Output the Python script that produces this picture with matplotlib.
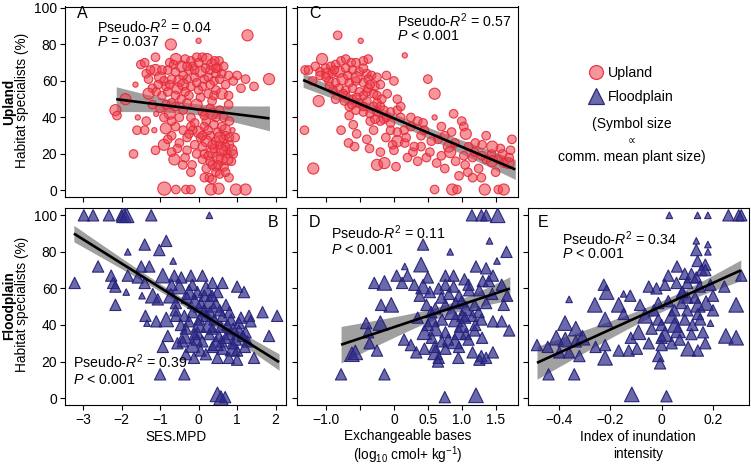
import numpy as np
import matplotlib
matplotlib.use("Agg")
import matplotlib.pyplot as plt
from matplotlib.lines import Line2D

plt.rcParams['font.family'] = ['Liberation Sans', 'DejaVu Sans']
plt.rcParams['mathtext.fontset'] = 'custom'
plt.rcParams['mathtext.rm'] = 'Liberation Sans'
plt.rcParams['mathtext.it'] = 'Liberation Sans:italic'
plt.rcParams['mathtext.bf'] = 'Liberation Sans:bold'

# ---------------- data ----------------
# Panel A: upland, SES.MPD vs habitat specialists (%), plant-size class
a_mpd = [1.27, 0.00, -0.72, -1.12, -0.59, -1.50, -1.40, -0.35, -0.20, -0.05, 0.10, 0.22, 0.53, -0.45, -0.15,
         0.35, 0.50, -1.12, -1.36, -0.80, -0.60, -0.25, 0.05, 0.30, 0.60, 0.78, 1.00, 1.22, 1.83, 1.44,
         -1.64, -1.30, -1.00, -0.90, -0.70, -0.50, -0.30, -0.10, 0.15, 0.40, -1.20, -0.85, -0.55, -0.20, 0.10,
         0.45, 0.70, -1.30, -1.10, -0.95, -0.60, -0.45, 0.05, 0.25, 0.60, 0.78, 0.78, -2.16, -2.12, -1.90,
         -1.58, -1.36, -1.00, -0.75, -0.60, -0.40, -0.20, -0.05, 0.10, 0.30, 0.45, -0.90, -0.50, 0.20, 0.55,
         -1.10, -1.60, -1.40, -0.85, -0.60, -0.40, -0.20, 0.00, 0.15, 0.30, 0.50, 0.69, 0.88, -0.70, -0.30,
         0.20, 0.45, 0.65, -0.90, -0.50, -0.10, 0.10, -1.69, -1.12, -0.63, -0.41, -0.17, -0.20, 0.15, 0.35,
         0.50, 0.65, 0.75, 0.85, 0.45, 0.66, 0.30, 0.60, 0.55, 0.80, 0.10, 0.45, 0.15, 0.28, 0.79,
         -0.89, -0.59, -0.33, -0.20, 0.32, 0.52, 0.97, 1.22, 0.40, 0.70, 0.25, 0.85, 0.60, 0.35, 0.55,
         -0.75, -0.40, 0.25, -0.95, 0.45, -0.70, 0.35, -0.25, -0.15, 0.05, -1.15, 0.70, 0.20, -0.30, -0.70,
         -0.65, -0.30, 0.00, 0.18, 0.42, 0.65, -1.05, -0.75, -0.40, -0.05, 0.30, 0.55, -0.80, -0.35, 0.00,
         0.40, -1.20, -0.85, -0.30, 0.15, 0.35, 0.65, -0.70, -0.10, 0.40, 0.80, 0.10, 0.55, 0.80, 0.35,
         0.60, 0.75, 0.90, 0.25, 0.50, 0.70, 0.35, -0.35, -0.05, -0.55, -0.80, -0.25, 0.95, 0.45, -0.10,
         -1.25, 0.90, 1.10]
a_pct = [85, 82, 80, 73, 72, 69, 70, 72, 71, 73, 73, 72, 71, 68, 68,
         69, 67, 66, 64, 66, 65, 66, 65, 66, 64, 63, 63, 61, 61, 57,
         58, 61, 62, 60, 61, 60, 61, 62, 61, 60, 56, 57, 56, 57, 57,
         55, 58, 53, 54, 52, 52, 50, 51, 53, 53, 52, 47, 44, 41, 50,
         40, 38, 45, 42, 46, 44, 40, 47, 43, 45, 40, 40, 40, 38, 44,
         42, 33, 33, 34, 35, 33, 35, 32, 35, 30, 32, 33, 33, 30, 29,
         27, 27, 28, 25, 26, 25, 24, 20, 22, 17, 14, 14, 10, 20, 21,
         18, 22, 20, 16, 13, 13, 16, 17, 25, 25, 17, 10, 7, 7, 7,
         1, 0.5, 0.5, 0.5, 0.5, 1, 0.5, 0.5, 23, 30, 33, 22, 35, 14, 9,
         70, 63, 62, 66, 64, 48, 49, 52, 33, 29, 33, 24, 12, 22, 21,
         69, 68, 70, 67, 71, 68, 58, 58, 58, 59, 58, 61, 54, 54, 55,
         52, 47, 47, 48, 41, 42, 40, 38, 37, 36, 38, 30, 29, 29, 25,
         22, 17, 20, 19, 14, 10, 6, 18, 20, 23, 28, 31, 29, 67, 66,
         66, 60, 56]
a_size = [3, 1, 3, 2, 3, 2, 2, 2, 2, 2, 2, 3, 2, 3, 2,
          3, 2, 3, 2, 2, 2, 2, 3, 2, 2, 2, 2, 2, 3, 2,
          1, 2, 3, 2, 2, 3, 2, 2, 2, 2, 2, 2, 3, 2, 2,
          2, 2, 3, 2, 2, 2, 2, 2, 2, 3, 2, 2, 3, 2, 3,
          1, 2, 2, 3, 2, 2, 2, 3, 2, 2, 2, 2, 2, 2, 2,
          1, 2, 2, 3, 2, 2, 2, 3, 2, 2, 2, 3, 1, 2, 2,
          3, 2, 2, 3, 2, 2, 2, 2, 2, 3, 2, 2, 2, 2, 3,
          3, 2, 2, 2, 2, 2, 2, 3, 2, 2, 2, 2, 2, 2, 2,
          4, 2, 2, 2, 3, 3, 3, 3, 2, 2, 2, 3, 2, 2, 2,
          2, 2, 2, 2, 2, 2, 2, 2, 2, 2, 1, 2, 2, 2, 2,
          2, 2, 2, 2, 2, 2, 2, 2, 3, 2, 2, 2, 2, 2, 2,
          2, 2, 2, 2, 2, 3, 2, 2, 2, 2, 2, 2, 3, 2, 2,
          3, 3, 2, 2, 2, 2, 2, 2, 2, 2, 2, 2, 2, 2, 2,
          2, 2, 2]

# Panel C: upland, exchangeable bases vs habitat specialists (%)
c_bases = [-0.83, -0.49, 0.16, -1.31, -1.26, -1.06, -1.16, -1.09, -1.01, -0.93, -0.86, -0.78, -0.71, -0.63, -0.56,
           -0.45, -0.38, -1.09, -0.98, -0.91, -0.81, -0.71, -0.61, -0.51, -0.40, -0.33, -0.96, -0.86, -0.76, -0.66,
           -0.56, -0.45, -0.38, -0.81, -0.71, -0.61, -0.51, -0.40, -0.30, -0.71, -0.61, -0.51, -0.40, -0.30, -0.66,
           -0.56, -0.45, -0.35, -0.25, -1.11, -0.20, -0.15, -0.73, -0.86, -0.45, -0.28, -0.38, -0.25, -0.20, 0.50,
           0.60, 0.88, 0.60, 1.00, 1.03, 1.06, 1.36, 1.74, 1.72, 1.57, 1.44, -1.32, -1.19, -0.67, -0.58,
           -0.36, -0.20, -0.25, -0.14, 0.03, 0.05, 0.15, 0.16, 0.28, 0.30, 0.48, 0.53, 0.63, 0.81, 0.83,
           0.91, 0.96, 1.09, 1.16, 1.29, 0.60, 0.86, 0.93, 1.34, 1.54, 1.62, 1.16, 1.36, 1.54, 1.62,
           1.69, 1.03, 1.19, 0.35, 0.43, -0.05, 0.05, -0.11, -0.20, -0.35, -0.28, -0.66, -0.78, -0.60, -0.10,
           0.05, 0.10, -0.11, 0.00, -0.25, -0.18, -0.05, 0.05, 0.18, 0.40, 0.70, 0.65, 1.20, 1.45, 0.25,
           -0.02, 0.35, 0.75, 1.25, 1.50,
           -1.00, -0.88, -0.68, -0.55, -0.45, -0.35, -0.90, -0.75, -0.55, -0.45, -0.25, -0.15, -0.05, 0.10, 0.25,
           0.45, 0.55, 0.75, 0.90, 1.10, 1.30, 1.45, 1.60, 1.70, 0.40, 0.20, 0.70, 1.05, -0.40, -0.55,
           -0.30, 0.00, -0.12, 0.85, 1.30, -0.95, -0.62, -1.20]
c_pct = [85, 82, 74, 66, 66, 72, 68, 65, 67, 68, 69, 71, 72, 70, 70,
         71, 72, 63, 64, 64, 65, 67, 66, 65, 64, 63, 60, 59, 61, 59,
         60, 59, 61, 56, 55, 56, 54, 54, 53, 52, 50, 48, 49, 46, 46,
         44, 43, 42, 43, 49, 46, 39, 49, 50, 52, 57, 56, 62, 58, 61,
         53, 42, 40, 38, 35, 31, 30, 28, 22, 23, 20, 33, 12, 26, 24,
         23, 21, 14, 15, 13, 27, 33, 26, 21, 24, 18, 21, 15, 24, 21,
         16, 8, 10, 7, 7, 0.5, 0.5, 0.5, 0.5, 0.5, 0.5, 18, 17, 17, 15,
         15, 19, 21, 38, 37, 43, 44, 40, 38, 38, 39, 41, 33, 36, 53,
         50, 46, 63, 60, 52, 50, 33, 32, 29, 30, 35, 28, 26, 24, 40,
         25, 16, 12, 12, 10,
         62, 66, 63, 62, 67, 58, 55, 53, 51, 46, 48, 44, 37, 40, 35,
         33, 27, 30, 26, 24, 19, 16, 20, 18, 24, 18, 19, 14, 28, 31,
         33, 22, 29, 32, 25, 57, 47, 60]
c_size = [2, 1, 1, 2, 2, 3, 2, 2, 2, 2, 2, 2, 2, 2, 2,
          2, 2, 2, 3, 2, 3, 2, 2, 2, 2, 2, 2, 2, 3, 2,
          2, 2, 2, 2, 2, 2, 2, 2, 2, 2, 2, 2, 2, 2, 2,
          2, 2, 2, 2, 3, 2, 2, 2, 2, 2, 2, 2, 2, 2, 2,
          3, 2, 1, 2, 2, 3, 2, 2, 2, 2, 2, 2, 3, 2, 2,
          2, 2, 3, 3, 2, 3, 2, 2, 2, 2, 2, 2, 2, 3, 3,
          2, 2, 2, 2, 2, 2, 3, 2, 3, 2, 3, 2, 2, 2, 2,
          3, 2, 2, 2, 2, 2, 2, 2, 2, 2, 2, 2, 2, 2, 2,
          2, 2, 2, 2, 2, 2, 2, 2, 2, 2, 2, 2, 2, 3, 2,
          2, 2, 2, 2, 2,
          2, 2, 2, 3, 2, 2, 2, 2, 2, 2, 2, 2, 2, 2, 2,
          2, 2, 2, 2, 2, 2, 3, 2, 2, 2, 2, 2, 2, 2, 2,
          2, 2, 2, 2, 2, 2, 2, 2]

# Panel B: floodplain, SES.MPD
b_mpd = [-2.98, -2.74, -2.33, -2.00, -1.94, -1.87, -1.23, 0.28, -3.22, -2.61, -1.84, -1.40, -0.84, -1.02, -0.66,
         -2.27, -2.22, -2.16, -1.88, -2.16, -1.84, -1.58, -1.40, -1.49, -1.28, -1.47, -1.19, -1.06, -1.38, -1.34,
         -0.93, -0.63, -0.50, -0.72, -0.59, -0.20, 0.10, 0.36, 0.62, -0.16, -0.03, 0.19, 0.49, 1.00, 1.18,
         -0.84, -0.59, -0.37, -0.46, -0.33, 0.06, 0.28, 0.45, 0.71, 0.19, 0.41, 0.62, 0.84, 1.31, 1.66,
         2.04, 1.35, 1.05, -0.80, -0.37, -0.03, 0.28, 0.53, 0.79, 1.05, 1.22, 1.83, -0.93, -0.41, -0.16,
         0.10, 0.36, 0.62, 0.88, 1.00, 1.27, -0.33, -0.12, 0.19, 0.49, 0.79, 1.00, 1.44, -1.00, -0.37,
         0.49, 0.69, 0.58, 0.97, 0.88, 0.36, 0.58, 0.02, -0.16, -0.30, -0.10, 0.15, -0.70, -0.45, 0.35,
         -0.25, 0.75, 1.15, 0.05, 0.60, 0.30, -0.55, -0.05, 1.20, -1.10,
         -0.25, 0.25, 0.55, 0.80, -0.60, 0.00, 0.45, 0.70, 1.10, -0.10, 0.90, 0.15]
b_pct = [100, 100, 100, 100, 100, 100, 100, 100, 63, 72, 80, 84, 86, 81, 75,
         67, 63, 61, 58, 51, 67, 66, 63, 72, 72, 56, 56, 54, 45, 41,
         67, 67, 61, 56, 52, 67, 67, 63, 63, 62, 58, 60, 58, 61, 58,
         43, 45, 45, 40, 38, 51, 53, 51, 51, 45, 43, 45, 43, 45, 47,
         45, 42, 41, 34, 34, 36, 35, 34, 35, 37, 36, 34, 28, 31, 29,
         31, 28, 27, 27, 26, 31, 24, 22, 24, 22, 22, 21, 22, 13, 13,
         2, 0.5, 0, 32, 30, 38, 39, 43, 47, 55, 53, 48, 62, 66, 56,
         42, 40, 34, 26, 31, 47, 30, 32, 28, 42,
         58, 40, 48, 47, 48, 40, 30, 33, 44, 35, 38, 56]
b_size = [2, 2, 2, 2, 3, 3, 2, 1, 2, 2, 1, 2, 2, 2, 1,
          2, 2, 2, 1, 2, 2, 2, 2, 2, 2, 1, 3, 2, 2, 1,
          3, 2, 3, 3, 2, 2, 2, 2, 2, 2, 2, 3, 2, 2, 2,
          3, 2, 2, 2, 2, 3, 3, 3, 2, 2, 2, 2, 2, 2, 2,
          2, 2, 2, 2, 3, 2, 2, 2, 2, 2, 2, 2, 2, 2, 3,
          2, 2, 2, 3, 2, 2, 2, 2, 2, 2, 2, 2, 2, 2, 2,
          3, 2, 3, 2, 2, 2, 2, 2, 2, 2, 3, 2, 2, 2, 2,
          2, 2, 2, 2, 2, 2, 2, 2, 2, 2,
          3, 3, 2, 2, 2, 3, 3, 2, 2, 2, 2, 2]

# Panel D: floodplain, exchangeable bases
d_bases = [1.15, 1.29, 1.36, 1.53, 1.41, 0.43, 0.83, 1.66, 1.52, 0.40, 0.16, 0.04, 0.20, 0.12, -0.29,
           -0.14, -0.04, -0.19, 0.30, 0.43, 0.53, 0.38, 0.76, 0.88, 1.04, 0.76, 0.88, 1.21, 1.36, 1.46,
           1.59, 1.31, 0.66, 0.81, 0.96, 1.11, 1.26, 0.48, 0.61, 0.76, 0.91, 1.06, 1.19, 1.36, 0.56,
           0.71, 0.91, 1.01, 1.16, 1.29, 0.45, 0.61, 0.76, 0.96, 1.06, 1.19, 1.46, 1.59, 1.70, 1.62,
           1.67, -0.41, -0.38, -0.20, -0.36, -0.25, -0.62, -0.57, 0.15, 0.25, 0.33, 0.45, 0.61, 0.66, 0.76,
           0.96, 1.16, 1.29, 1.46, 0.56, 0.71, 1.26, 1.36, -0.78, -0.14, 0.75, 1.21, 0.55, 0.85, 1.00,
           1.10, 0.35, 0.80, 1.00, 0.50, 1.40, 0.65, 0.95, 1.45, 1.25,
           0.90, 1.05, 0.70, 1.20, 0.50, 1.10, 0.60, 1.30]
d_pct = [100, 100, 100, 100, 86, 84, 80, 80, 75, 73, 72, 67, 67, 63, 63,
         63, 51, 51, 62, 61, 58, 56, 67, 67, 65, 62, 61, 72, 71, 67,
         62, 64, 60, 57, 56, 59, 59, 51, 49, 51, 52, 49, 51, 52, 43,
         43, 43, 45, 45, 43, 36, 38, 36, 36, 35, 37, 42, 42, 37, 51,
         56, 41, 36, 41, 30, 26, 24, 25, 32, 29, 25, 27, 25, 22, 27,
         28, 25, 23, 25, 33, 31, 21, 22, 13, 13, 0.5, 1.5, 47, 47, 40,
         32, 44, 32, 53, 66, 64, 20, 22, 57, 47,
         31, 44, 55, 40, 40, 62, 28, 33]
d_size = [2, 2, 2, 3, 1, 2, 1, 2, 1, 3, 1, 2, 2, 2, 2,
          3, 3, 2, 2, 3, 2, 2, 2, 2, 2, 2, 2, 2, 2, 2,
          2, 2, 2, 2, 2, 2, 2, 2, 2, 2, 2, 3, 2, 2, 3,
          2, 3, 2, 2, 2, 3, 3, 2, 3, 2, 2, 2, 2, 2, 2,
          2, 2, 2, 3, 2, 2, 3, 3, 2, 2, 2, 2, 3, 2, 2,
          2, 2, 2, 2, 2, 2, 2, 2, 2, 2, 2, 3, 2, 3, 3,
          2, 2, 2, 2, 2, 2, 2, 2, 2, 2,
          3, 2, 2, 2, 2, 2, 2, 2]

# Panel E: floodplain, index of inundation intensity
e_inund = [0.03, 0.14, 0.18, 0.26, 0.30, 0.31, 0.135, 0.18, 0.135, 0.18, 0.14, 0.17, 0.155, 0.17, 0.06,
           0.31, 0.026, 0.09, 0.116, 0.135, -0.05, -0.02, 0.013, 0.058, 0.10, 0.148, 0.19, 0.244, -0.225, -0.214,
           -0.36, -0.148, -0.122, -0.26, -0.167, -0.148, -0.084, -0.013, 0.026, 0.077, 0.141, 0.173, 0.29, -0.22, -0.376,
           -0.334, -0.064, -0.013, 0.039, 0.09, 0.141, -0.09, -0.039, 0.013, 0.064, 0.116, 0.161, 0.19, 0.25, 0.29,
           -0.485, -0.443, -0.41, -0.375, -0.334, -0.308, -0.398, -0.36, -0.32, -0.257, -0.22, -0.22, -0.167, -0.128, -0.096,
           0.00, 0.039, 0.103, 0.141, -0.013, -0.006, -0.44, -0.34, -0.116, 0.019, 0.05, 0.10, 0.00, 0.12, 0.07,
           -0.03, 0.20, 0.08, -0.12, 0.17,
           0.05, 0.10, 0.00, 0.15, -0.05, 0.08, 0.13, 0.20]
e_pct = [100, 100, 100, 100, 100, 100, 86, 84, 81, 80, 75, 73, 70, 70, 72,
         67, 67, 68, 67, 66, 61, 60, 62, 63, 63, 61, 62, 61, 62, 58,
         54, 57, 56, 51, 51, 46, 51, 52, 53, 52, 51, 52, 51, 43, 41,
         38, 45, 43, 45, 43, 46, 36, 38, 35, 37, 35, 36, 41, 34, 33,
         29, 28, 33, 32, 31, 33, 25, 25, 23, 28, 29, 22, 26, 26, 27,
         29, 30, 27, 26, 23, 19, 13, 13, 2, 1, 48, 55, 40, 40, 32,
         48, 56, 58, 33, 30,
         40, 48, 33, 43, 30, 58, 55, 48]
e_size = [1, 1, 1, 2, 2, 2, 1, 1, 2, 1, 2, 2, 2, 2, 2,
          2, 2, 2, 3, 2, 2, 2, 2, 2, 2, 2, 2, 2, 2, 3,
          1, 1, 2, 3, 3, 2, 2, 2, 2, 2, 3, 3, 3, 3, 3,
          3, 3, 2, 3, 2, 2, 3, 2, 3, 3, 2, 2, 1, 3, 3,
          2, 2, 3, 3, 2, 3, 2, 2, 2, 2, 2, 3, 2, 2, 2,
          2, 2, 3, 2, 2, 2, 2, 2, 3, 2, 2, 2, 2, 2, 2,
          2, 2, 2, 2, 2,
          3, 2, 2, 2, 2, 2, 2, 2]

# fitted lines: [x_start, x_end, intercept, slope, ci_centre, ci_min_halfwidth, ci_growth]
fit_a = [-2.14, 1.84, 44.35, -2.64, -0.15, 3.0, 3.07]
fit_c = [-1.34, 1.79, 39.53, -15.65, -0.12, 2.5, 2.56]
fit_b = [-3.24, 2.09, 47.27, -13.19, -0.57, 2.0, 1.51]
fit_d = [-0.78, 1.71, 38.82, 12.33, 0.78, 3.0, 6.11]
fit_e = [-0.485, 0.308, 50.24, 63.8, 0.02, 3.0, 16.8]

stats_a = ["Pseudo-$R^2$ = 0.04", "$P$ = 0.037"]
stats_c = ["Pseudo-$R^2$ = 0.57", "$P$ < 0.001"]
stats_b = ["Pseudo-$R^2$ = 0.39", "$P$ < 0.001"]
stats_d = ["Pseudo-$R^2$ = 0.11", "$P$ < 0.001"]
stats_e = ["Pseudo-$R^2$ = 0.34", "$P$ < 0.001"]

mpd_ticks = [-3, -2, -1, 0, 1, 2]
mpd_labels = ["\u22123", "\u22122", "\u22121", "0", "1", "2"]
bases_ticks = [-1.0, -0.5, 0, 0.5, 1.0, 1.5]
bases_labels = ["\u22121.0", "", "0", "0.5", "1.0", "1.5"]
inund_ticks = [-0.4, -0.2, 0, 0.2]
inund_labels = ["\u22120.4", "\u22120.2", "0", "0.2"]
pct_ticks = [0, 20, 40, 60, 80, 100]

# ---------------- style ----------------
W, H = 751, 466
fig = plt.figure(figsize=(W / 100, H / 100), dpi=100)

def px_ax(l, t, r, b):
    return fig.add_axes([l / W, 1 - b / H, (r - l) / W, (b - t) / H])

def ftext(x, y, s, **kw):
    fig.text(x / W, 1 - y / H, s, **kw)

RED_FACE = (0.93, 0.25, 0.30, 0.55)
RED_EDGE = (0.90, 0.16, 0.22, 0.9)
BLUE_FACE = (0.17, 0.16, 0.53, 0.70)
BLUE_EDGE = (0.15, 0.13, 0.47, 0.95)
circle_area = {1: 14, 2: 38, 3: 64, 4: 90}
tri_area = {1: 22, 2: 66, 3: 110, 4: 150}

def style_axes(ax, xlim, ylim, xticks, xlabels, ylabels_on):
    ax.set_xlim(*xlim)
    ax.set_ylim(*ylim)
    ax.set_xticks(xticks)
    if xlabels is None:
        ax.set_xticklabels([])
    else:
        ax.set_xticklabels(xlabels)
    ax.set_yticks(pct_ticks)
    if not ylabels_on:
        ax.set_yticklabels([])
    ax.tick_params(direction='out', length=3.5, width=0.8, labelsize=10, pad=2)
    for sp in ax.spines.values():
        sp.set_linewidth(0.8)

def draw_fit(ax, fit):
    x0, x1, b0, b1, xc, h0, k = fit
    xs = np.linspace(x0, x1, 100)
    ys = b0 + b1 * xs
    hw = np.sqrt(h0 ** 2 + (k * (xs - xc)) ** 2)
    ax.fill_between(xs, ys - hw, ys + hw, color='#a0a0a0', lw=0, zorder=1)
    ax.plot(xs, ys, color='black', lw=1.9, zorder=5, solid_capstyle='butt')

def draw_points(ax, x, y, s, kind):
    if kind == 'up':
        ax.scatter(x, y, s=[circle_area[v] for v in s], marker='o', facecolor=RED_FACE,
                   edgecolor=RED_EDGE, linewidth=0.8, zorder=3)
    else:
        ax.scatter(x, y, s=[tri_area[v] for v in s], marker='^', facecolor=BLUE_FACE,
                   edgecolor=BLUE_EDGE, linewidth=0.8, zorder=3)

top_ylim = (-3.6, 100.8)
bot_ylim = (-3.8, 104.0)
mpd_lim = (-3.47, 2.27)
bases_lim = (-1.43, 1.83)
inund_lim = (-0.52, 0.34)

axA = px_ax(65, 6.5, 286, 197)
axC = px_ax(297, 6.5, 518, 197)
axB = px_ax(65, 208, 286, 405)
axD = px_ax(297, 208, 518, 405)
axE = px_ax(528, 208, 749, 405)

style_axes(axA, mpd_lim, top_ylim, mpd_ticks, None, True)
style_axes(axC, bases_lim, top_ylim, bases_ticks, None, False)
style_axes(axB, mpd_lim, bot_ylim, mpd_ticks, mpd_labels, True)
style_axes(axD, bases_lim, bot_ylim, bases_ticks, bases_labels, False)
style_axes(axE, inund_lim, bot_ylim, inund_ticks, inund_labels, False)

for ax, fit in [(axA, fit_a), (axC, fit_c), (axB, fit_b), (axD, fit_d), (axE, fit_e)]:
    draw_fit(ax, fit)

draw_points(axA, a_mpd, a_pct, a_size, 'up')
draw_points(axC, c_bases, c_pct, c_size, 'up')
draw_points(axB, b_mpd, b_pct, b_size, 'fl')
draw_points(axD, d_bases, d_pct, d_size, 'fl')
draw_points(axE, e_inund, e_pct, e_size, 'fl')

# panel letters
LFS = 11.5
ftext(77, 14, "A", fontsize=LFS, va='center', ha='left')
ftext(309, 13, "C", fontsize=LFS, va='center', ha='left')
ftext(268, 222, "B", fontsize=LFS, va='center', ha='left')
ftext(309, 222, "D", fontsize=LFS, va='center', ha='left')
ftext(538, 222, "E", fontsize=LFS, va='center', ha='left')

# statistics
SFS = 10.2
for (x, y1, y2), st in [((97, 27, 42), stats_a), ((397, 20.5, 36), stats_c),
                        ((73, 362, 380), stats_b), ((331, 233, 250), stats_d),
                        ((562, 239, 254), stats_e)]:
    ftext(x, y1, st[0], fontsize=SFS, va='center', ha='left')
    ftext(x, y2, st[1], fontsize=SFS, va='center', ha='left')

# axis labels
YFS = 9.8
ftext(9, 102, "Upland", fontsize=YFS, fontweight='bold', rotation=90, va='center', ha='center')
ftext(22, 100, "Habitat specialists (%)", fontsize=YFS, rotation=90, va='center', ha='center')
ftext(9, 306, "Floodplain", fontsize=YFS, fontweight='bold', rotation=90, va='center', ha='center')
ftext(22, 304, "Habitat specialists (%)", fontsize=YFS, rotation=90, va='center', ha='center')

XFS = 9.8
ftext(176, 437, "SES.MPD", fontsize=XFS, va='center', ha='center')
ftext(408, 436, "Exchangeable bases", fontsize=XFS, va='center', ha='center')
ftext(408, 455.5, "(log$_{10}$ cmol+ kg$^{\u22121}$)", fontsize=XFS, va='center', ha='center')
ftext(638, 437, "Index of inundation", fontsize=XFS, va='center', ha='center')
ftext(638, 454, "intensity", fontsize=XFS, va='center', ha='center')

# legend
handles = [Line2D([], [], ls='', marker='o', ms=10, mfc=RED_FACE, mec=RED_EDGE, mew=0.9),
           Line2D([], [], ls='', marker='^', ms=12, mfc=BLUE_FACE, mec=BLUE_EDGE, mew=0.9)]
fig.legend(handles, ["Upland", "Floodplain"], loc='upper left',
           bbox_to_anchor=(589 / W, 1 - 66 / H), frameon=False, fontsize=10.2,
           handlelength=1.0, handletextpad=0.35, labelspacing=0.68,
           borderpad=0, borderaxespad=0)
ftext(632, 124, "(Symbol size", fontsize=10, va='center', ha='center')
ftext(632, 141, "\u221d", fontsize=8, va='center', ha='center')
ftext(632, 157, "comm. mean plant size)", fontsize=10, va='center', ha='center')

fig.savefig("out.png", dpi=100)
